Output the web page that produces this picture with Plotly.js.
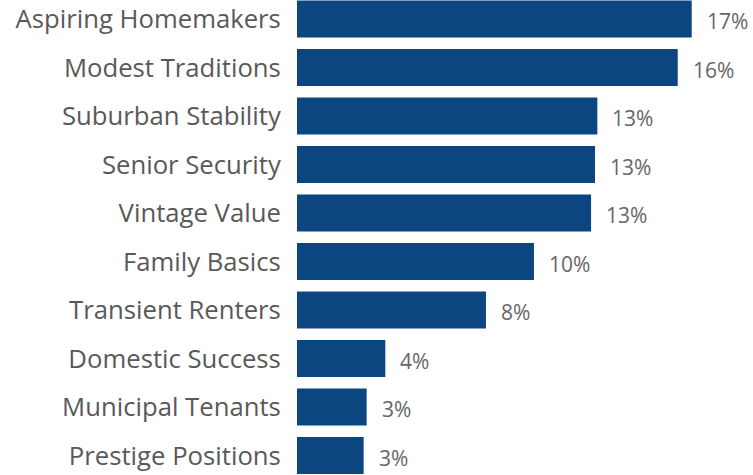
<!DOCTYPE html>
<html>
<head>
<meta charset="utf-8">
<script src="https://cdn.plot.ly/plotly-3.0.1.min.js"></script>
<style>html,body{margin:0;padding:0;background:#fff;}#chart{width:753px;height:475px;}</style>
</head>
<body>
<div id="chart"></div>
<script>
const categories = ["Aspiring Homemakers","Modest Traditions","Suburban Stability","Senior Security","Vintage Value","Family Basics","Transient Renters","Domestic Success","Municipal Tenants","Prestige Positions"];
const values = [16.94, 16.34, 12.89, 12.79, 12.62, 10.17, 8.11, 3.79, 2.99, 2.86];
const valueLabels = values.map(v => Math.round(v) + "%");

const trace = {
  type: "bar",
  orientation: "h",
  y: categories,
  x: values,
  marker: {color: "#0c4680"},
  hoverinfo: "none"
};

const annotations = values.map((v, i) => ({
  x: v, y: categories[i], xref: "x", yref: "y",
  text: valueLabels[i], showarrow: false,
  xanchor: "left", yanchor: "middle", xshift: 13, yshift: -2,
  font: {family: "Open Sans, sans-serif", size: 21, color: "#666666"}
}));

const layout = {
  width: 753, height: 475,
  margin: {l: 297, r: 0, t: 0, b: 0},
  paper_bgcolor: "#ffffff", plot_bgcolor: "#ffffff",
  showlegend: false,
  bargap: 0.237,
  xaxis: {range: [0, 19.57], visible: false, fixedrange: true},
  yaxis: {
    type: "category",
    range: [9.402, -0.392],
    autorange: false,
    showgrid: false, zeroline: false, showline: false,
    ticks: "outside", ticklen: 10, tickcolor: "rgba(0,0,0,0)",
    tickfont: {family: "Open Sans, sans-serif", size: 25.7, color: "#595959"},
    automargin: false
  },
  annotations: annotations
};

Plotly.newPlot("chart", [trace], layout, {displayModeBar: false, staticPlot: true});
</script>
</body>
</html>
